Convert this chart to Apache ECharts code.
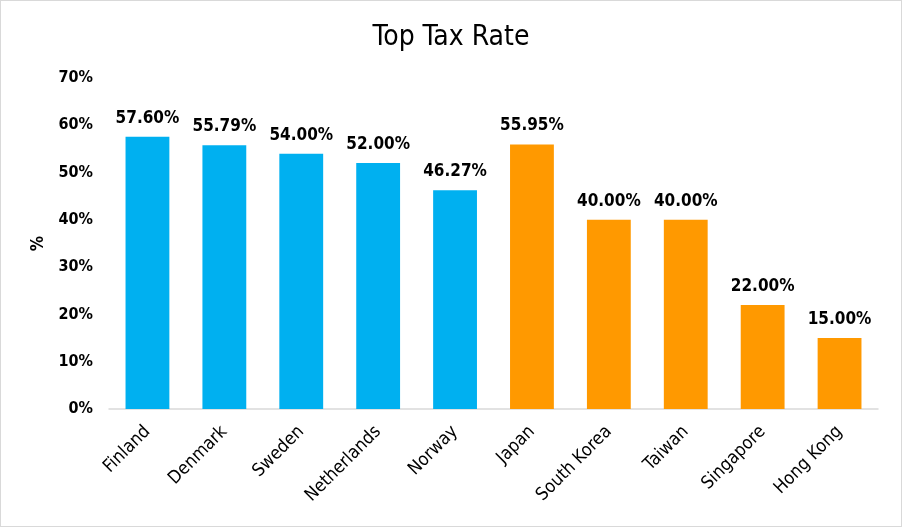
<!DOCTYPE html>
<html><head><meta charset="utf-8">
<script src="https://cdn.jsdelivr.net/npm/echarts@6/dist/echarts.min.js"></script>
<style>html,body{margin:0;padding:0;background:#fff}#c{width:900px;height:525px;border:1px solid #d9d9d9}</style>
</head><body><div id="c"></div>
<script>
const categories = ["Finland","Denmark","Sweden","Netherlands","Norway","Japan","South Korea","Taiwan","Singapore","Hong Kong"];
const values = [57.60,55.79,54.00,52.00,46.27,55.95,40.00,40.00,22.00,15.00];
const groups = ["nordic","nordic","nordic","nordic","nordic","asia","asia","asia","asia","asia"];
const groupColors = {nordic:"#00B0F0", asia:"#FF9900"};
const yTicks = [0,10,20,30,40,50,60,70];
const FONT = "'Liberation Sans Narrow','DejaVu Sans Condensed','Roboto',sans-serif";
const chart = echarts.init(document.getElementById('c'));
chart.setOption({
  animation:false,
  title:{text:"Top Tax Rate",left:'center',top:18,textStyle:{fontFamily:FONT,fontSize:28,fontWeight:'normal',color:'#000'}},
  grid:{left:108,right:23,top:77,bottom:117,containLabel:false},
  xAxis:{type:'category',data:categories,
    axisLine:{lineStyle:{color:'#d9d9d9',width:1.5}},axisTick:{show:false},
    axisLabel:{rotate:45,color:'#000',fontFamily:FONT,fontSize:18,margin:20,interval:0}},
  yAxis:{type:'value',min:yTicks[0],max:yTicks[yTicks.length-1],interval:10,
    name:'%',nameLocation:'middle',nameGap:62,nameRotate:90,
    nameTextStyle:{color:'#000',fontFamily:FONT,fontSize:17,fontWeight:'bold'},
    splitLine:{show:false},axisLine:{show:false},axisTick:{show:false},
    axisLabel:{color:'#000',fontFamily:FONT,fontSize:16,fontWeight:'bold',margin:16,formatter:v=>v+'%'}},
  series:[{type:'bar',barWidth:'57%',
    data:values.map((v,i)=>({value:v,itemStyle:{color:groupColors[groups[i]]}})),
    label:{show:true,position:'top',distance:10,color:'#000',fontFamily:FONT,fontSize:17,fontWeight:'bold',
      formatter:p=>p.value.toFixed(2)+'%'}}]
});
</script></body></html>
